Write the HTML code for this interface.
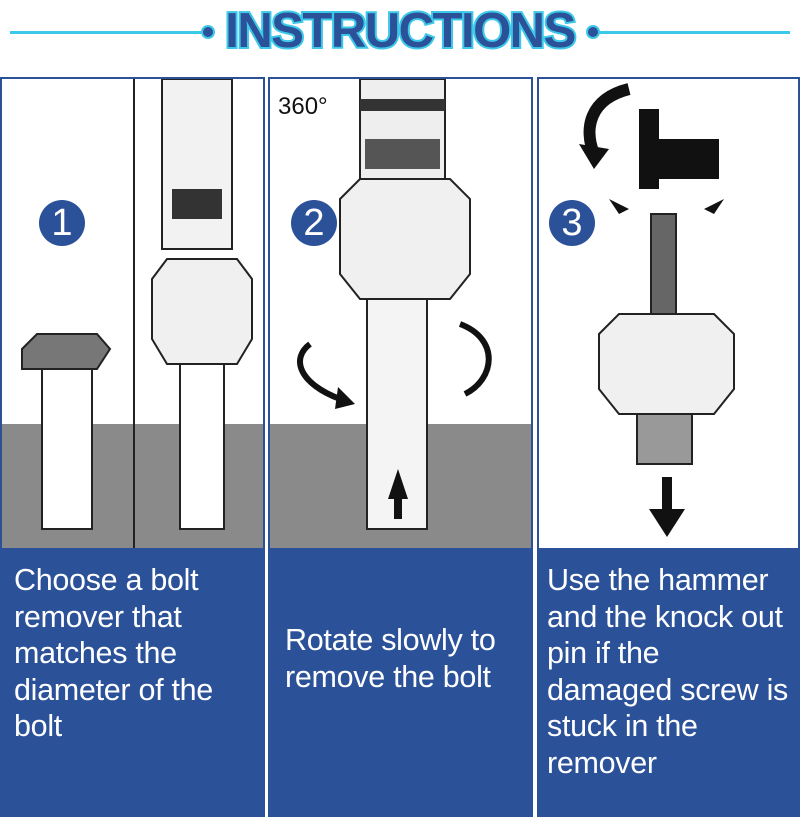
<!DOCTYPE html>
<html><head><meta charset="utf-8"><style>
body{margin:0;width:800px;height:800px;background:#fff;position:relative;overflow:hidden;font-family:"Liberation Sans",sans-serif}
.p{position:absolute;top:77px;height:740px;border:2px solid #2b5199;box-sizing:border-box;background:#fff;overflow:hidden}
.g{position:absolute;left:0;right:0;top:345px;height:124px;background:#8a8a8a}
.b{position:absolute;left:0;right:0;top:469px;bottom:0;background:#2b5199}
.t{position:absolute;color:#fff;font-size:30.5px;line-height:36.5px;letter-spacing:-0.3px}
.n{position:absolute;width:46px;height:46px;border-radius:50%;background:#2b5199;color:#fff;font-size:38px;text-align:center;line-height:46px}
.a{position:absolute}
</style></head><body>
<div style="position:absolute;left:10px;top:31px;width:195px;height:3px;background:#3cc8e8"></div>
<div style="position:absolute;left:596px;top:31px;width:194px;height:3px;background:#3cc8e8"></div>
<div style="position:absolute;left:201px;top:25px;width:14px;height:14px;border-radius:50%;background:#2b5199;border:2px solid #3cc8e8;box-sizing:border-box"></div>
<div style="position:absolute;left:586px;top:25px;width:14px;height:14px;border-radius:50%;background:#2b5199;border:2px solid #3cc8e8;box-sizing:border-box"></div>
<div style="position:absolute;left:215px;top:3px;width:370px;text-align:center;font-size:49px;font-weight:bold;color:#2b5199;letter-spacing:-1.5px;-webkit-text-stroke:4px #3cc8e8;paint-order:stroke fill">INSTRUCTIONS</div>

<div class="p" style="left:0;width:265px">
 <div class="g"></div><div class="b"></div>
 <div style="position:absolute;left:131px;top:0;width:2px;height:469px;background:#222"></div>
 <div class="n" style="left:37px;top:121px">1</div>
 <svg class="a" style="left:0;top:0" width="265" height="469">
  <polygon points="20,270 35,255 95,255 108,270 95,290 35,290 20,290" fill="#777" stroke="#222" stroke-width="2"/>
  <rect x="40" y="290" width="50" height="160" fill="#fff" stroke="#222" stroke-width="2"/>
  <rect x="160" y="0" width="70" height="170" fill="#f2f2f2" stroke="#222" stroke-width="2"/>
  <rect x="170" y="110" width="50" height="30" fill="#333"/>
  <polygon points="150,200 165,180 235,180 250,200 250,260 235,285 165,285 150,260" fill="#f0f0f0" stroke="#222" stroke-width="2"/>
  <rect x="178" y="285" width="44" height="165" fill="#fff" stroke="#222" stroke-width="2"/>
 </svg>
 <div class="t" style="left:12px;top:483px">Choose a bolt<br>remover that<br>matches the<br>diameter of the<br>bolt</div>
</div>

<div class="p" style="left:268px;width:265px">
 <div class="g"></div><div class="b"></div>
 <div class="n" style="left:21px;top:121px">2</div>
 <div class="a" style="left:8px;top:14px;font-size:24px;color:#111">360°</div>
 <svg class="a" style="left:0;top:0" width="265" height="469">
  <rect x="90" y="0" width="85" height="100" fill="#eee" stroke="#222" stroke-width="2"/>
  <rect x="90" y="20" width="85" height="12" fill="#333"/>
  <rect x="95" y="60" width="75" height="30" fill="#555"/>
  <polygon points="70,120 90,100 180,100 200,120 200,195 180,220 90,220 70,195" fill="#f0f0f0" stroke="#222" stroke-width="2"/>
  <rect x="97" y="220" width="60" height="230" fill="#f4f4f4" stroke="#222" stroke-width="2"/>
  <polygon points="118,420 128,390 138,420 132,420 132,440 124,440 124,420" fill="#111"/>
  <path d="M40,265 C20,280 30,305 70,320" stroke="#111" stroke-width="6" fill="none"/>
  <polygon points="68,308 85,325 65,330" fill="#111"/>
  <path d="M190,245 C230,260 225,300 195,315" stroke="#111" stroke-width="6" fill="none"/>
 </svg>
 <div class="t" style="left:15px;top:543px">Rotate slowly to<br>remove the bolt</div>
</div>

<div class="p" style="left:537px;width:263px">
 <div class="b"></div>
 <div class="n" style="left:10px;top:121px">3</div>
 <svg class="a" style="left:0;top:0" width="263" height="469">
  <path d="M90,10 C50,20 45,50 55,75" stroke="#111" stroke-width="12" fill="none"/>
  <polygon points="40,65 70,70 55,90" fill="#111"/>
  <polygon points="100,30 120,30 120,60 180,60 180,100 120,100 120,110 100,110" fill="#111"/>
  <polygon points="70,120 90,130 80,135" fill="#111"/><polygon points="185,120 165,130 175,135" fill="#111"/>
  <rect x="112" y="135" width="25" height="100" fill="#666" stroke="#222" stroke-width="2"/>
  <polygon points="60,255 80,235 175,235 195,255 195,310 175,335 80,335 60,310" fill="#f0f0f0" stroke="#222" stroke-width="2"/>
  <rect x="98" y="335" width="55" height="50" fill="#999" stroke="#222" stroke-width="2"/>
  <rect x="123" y="398" width="10" height="35" fill="#111"/>
  <polygon points="110,430 146,430 128,458" fill="#111"/>
 </svg>
 <div class="t" style="left:8px;top:483px">Use the hammer<br>and the knock out<br>pin if the<br>damaged screw is<br>stuck in the<br>remover</div>
</div>
</body></html>
